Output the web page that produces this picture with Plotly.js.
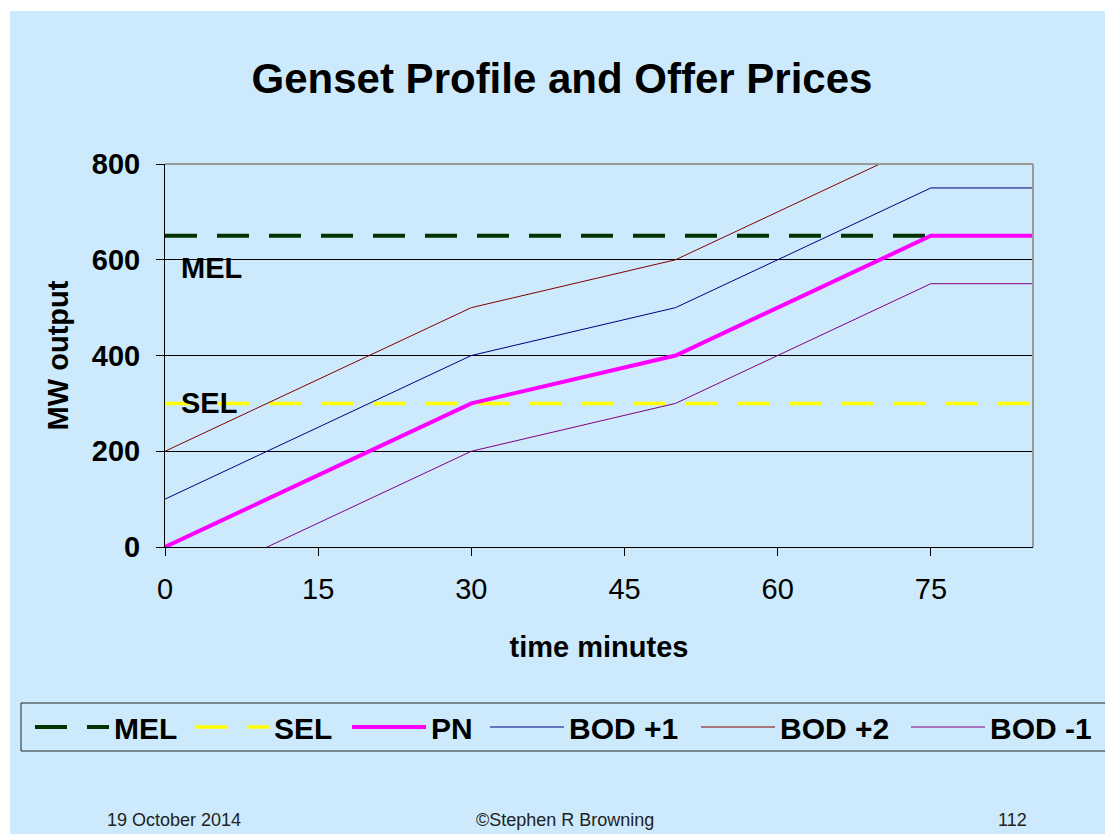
<!DOCTYPE html>
<html><head><meta charset="utf-8">
<script src="https://cdn.plot.ly/plotly-3.0.1.min.js"></script>
<style>
html,body{margin:0;padding:0;background:#ffffff;overflow:hidden;}
#chart{position:absolute;left:10px;top:11px;width:1125px;height:823px;}
</style></head>
<body><div id="chart"></div>
<script>
const time = [0, 30, 50, 75, 85];
const melX = [0, 75];
const melY = [650, 650];
const selX = [0, 85];
const selY = [300, 300];
const pn = [0, 300, 400, 650, 650];
const bodPlus1 = [100, 400, 500, 750, 750];
const bodPlus2 = [200, 500, 600, 850, 850];
const bodMinus1 = [-100, 200, 300, 550, 550];
const xTicks = [0, 15, 30, 45, 60, 75];
const yTicks = [0, 200, 400, 600, 800];
const seriesNames = ['MEL', 'SEL', 'PN', 'BOD +1', 'BOD +2', 'BOD -1'];

const F = '"Liberation Sans", Arial, sans-serif';
const b = s => '<b>' + s + '</b>';
const W = 1125, H = 823, ML = 155, PW = 868, MT = 153, PH = 383;
const px2x = p => (p - 10 - ML) / PW;          // page x -> paper x
const px2y = p => (MT + PH - (p - 11)) / PH;   // page y -> paper y

// one legend per entry so each key sits where the original slide put it
const legendLeftPx = [30, 190, 347, 485, 696, 906];
const legendIds = ['legend', 'legend2', 'legend3', 'legend4', 'legend5', 'legend6'];

const styles = [
  {color: '#003300', width: 4, dash: '32px,20px'},
  {color: '#ffff00', width: 3.5, dash: '32px,20px'},
  {color: '#ff00ff', width: 4},
  {color: '#000080', width: 1},
  {color: '#800000', width: 1},
  {color: '#800080', width: 1}
];
const xs = [melX, selX, time, time, time, time];
const ys = [melY, selY, pn, bodPlus1, bodPlus2, bodMinus1];
const traces = seriesNames.map((n, i) => ({
  x: xs[i], y: ys[i], name: b(n), mode: 'lines', line: styles[i], legend: legendIds[i]
}));

const layout = {
  width: W, height: H,
  paper_bgcolor: '#cceafc', plot_bgcolor: '#cceafc',
  margin: {l: ML, r: W - ML - PW, t: MT, b: H - MT - PH, autoexpand: false},
  font: {family: F, color: '#000000'},
  showlegend: true,
  title: {text: b('Genset Profile and Offer Prices'), font: {size: 42, family: F, color: '#000'},
          x: 552 / W, xref: 'container', xanchor: 'center', y: 0.9186, yref: 'container', yanchor: 'middle'},
  xaxis: {range: [0, 85], tickvals: xTicks, ticktext: xTicks.map(String), showgrid: false, zeroline: false,
          showline: true, linecolor: '#000', linewidth: 1, ticks: 'outside', ticklen: 8, tickcolor: '#000',
          tickfont: {size: 29, family: F}, ticklabelstandoff: 8, fixedrange: true, automargin: false,
          title: {text: b('time minutes'), font: {size: 29, family: F}, standoff: 32}},
  yaxis: {range: [0, 800], tickvals: yTicks, ticktext: yTicks.map(v => b(v)),
          showgrid: true, gridcolor: '#000', gridwidth: 1, zeroline: false,
          showline: true, linecolor: '#000', linewidth: 1, ticks: 'outside', ticklen: 8, tickcolor: '#000',
          tickfont: {size: 29, family: F}, ticklabelstandoff: 10, fixedrange: true, automargin: false,
          title: {text: b('MW output'), font: {size: 29, family: F}, standoff: 14}},
  shapes: [
    {type: 'line', xref: 'paper', yref: 'paper', x0: 0, x1: 1, y0: 1, y1: 1, line: {color: '#999999', width: 2}, layer: 'above'},
    {type: 'line', xref: 'paper', yref: 'paper', x0: 1, x1: 1, y0: 0, y1: 1, line: {color: '#999999', width: 2}, layer: 'above'},
    {type: 'rect', xref: 'paper', yref: 'paper', x0: px2x(21), x1: px2x(1125), y0: px2y(703), y1: px2y(751),
     line: {color: '#222222', width: 1}, fillcolor: 'rgba(0,0,0,0)', layer: 'above'}
  ],
  annotations: [
    {text: b('MEL'), x: 1.4, y: 583, xref: 'x', yref: 'y', xanchor: 'left', yanchor: 'middle', showarrow: false, font: {size: 29, family: F}},
    {text: b('SEL'), x: 1.4, y: 301, xref: 'x', yref: 'y', xanchor: 'left', yanchor: 'middle', showarrow: false, font: {size: 29, family: F}},
    {text: '19 October 2014', x: px2x(105), y: px2y(820), xref: 'paper', yref: 'paper', xanchor: 'left', yanchor: 'middle', showarrow: false, font: {size: 18, family: F, color: '#222'}},
    {text: '©Stephen R Browning', x: px2x(565), y: px2y(820), xref: 'paper', yref: 'paper', xanchor: 'center', yanchor: 'middle', showarrow: false, font: {size: 18, family: F, color: '#222'}},
    {text: '112', x: px2x(1012), y: px2y(820), xref: 'paper', yref: 'paper', xanchor: 'center', yanchor: 'middle', showarrow: false, font: {size: 18, family: F, color: '#222'}}
  ]
};
legendIds.forEach((id, i) => {
  layout[id] = {orientation: 'h', x: px2x(legendLeftPx[i]), xanchor: 'left', y: px2y(727), yanchor: 'middle',
                bgcolor: 'rgba(0,0,0,0)', borderwidth: 0, font: {size: 30, family: F},
                itemwidth: 74, itemclick: false};
});
Plotly.newPlot('chart', traces, layout, {displayModeBar: false, staticPlot: true});
</script></body></html>
